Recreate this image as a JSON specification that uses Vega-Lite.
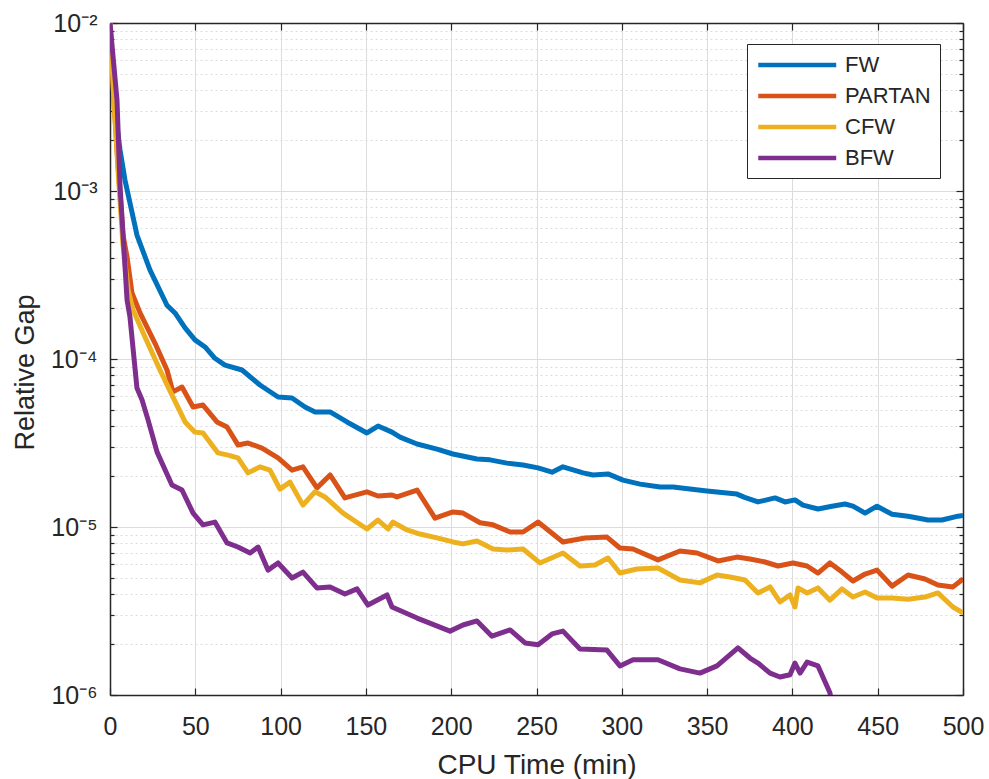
{
  "$schema": "https://vega.github.io/schema/vega-lite/v6.json",
  "width": 853,
  "height": 672,
  "autosize": "none",
  "padding": {"left": 110, "top": 23, "right": 26, "bottom": 84},
  "background": "white",
  "config": {
    "view": {"stroke": null},
    "font": "Liberation Sans",
    "axis": {
      "labelFont": "Liberation Sans",
      "titleFont": "Liberation Sans",
      "labelColor": "#262626",
      "titleColor": "#262626",
      "domainColor": "#262626",
      "domainWidth": 1.5,
      "tickColor": "#262626",
      "tickWidth": 1.2,
      "titleFontWeight": "normal"
    }
  },
  "data": {
    "values": [
      {"m":"FW","t":0,"g":0.01},{"m":"FW","t":2.9,"g":0.00303},{"m":"FW","t":5.9,"g":0.00175},{"m":"FW","t":8.8,"g":0.00116},{"m":"FW","t":15.8,"g":0.000547},{"m":"FW","t":23.4,"g":0.000339},{"m":"FW","t":33.4,"g":0.000209},{"m":"FW","t":38.1,"g":0.000188},{"m":"FW","t":44,"g":0.000153},{"m":"FW","t":49.8,"g":0.00013},{"m":"FW","t":55.7,"g":0.000118},{"m":"FW","t":61.5,"g":0.000101},{"m":"FW","t":67.4,"g":0.000092},{"m":"FW","t":77.4,"g":0.000086},{"m":"FW","t":87.9,"g":0.00007},{"m":"FW","t":98.5,"g":0.0000594},{"m":"FW","t":106.7,"g":0.0000586},{"m":"FW","t":114.3,"g":0.0000518},{"m":"FW","t":120.2,"g":0.0000484},{"m":"FW","t":129,"g":0.0000484},{"m":"FW","t":138.9,"g":0.0000422},{"m":"FW","t":150.6,"g":0.0000363},{"m":"FW","t":157.1,"g":0.0000399},{"m":"FW","t":165.3,"g":0.0000367},{"m":"FW","t":170,"g":0.0000343},{"m":"FW","t":180,"g":0.0000312},{"m":"FW","t":191.7,"g":0.0000291},{"m":"FW","t":201,"g":0.0000272},{"m":"FW","t":215.1,"g":0.0000254},{"m":"FW","t":222.7,"g":0.0000251},{"m":"FW","t":232.7,"g":0.000024},{"m":"FW","t":242.1,"g":0.0000234},{"m":"FW","t":250.9,"g":0.0000225},{"m":"FW","t":259.1,"g":0.0000212},{"m":"FW","t":265.5,"g":0.0000228},{"m":"FW","t":277.3,"g":0.000021},{"m":"FW","t":283.1,"g":0.0000204},{"m":"FW","t":291.9,"g":0.0000207},{"m":"FW","t":300.7,"g":0.000019},{"m":"FW","t":310.7,"g":0.000018},{"m":"FW","t":322.4,"g":0.0000173},{"m":"FW","t":330,"g":0.0000173},{"m":"FW","t":349.9,"g":0.0000164},{"m":"FW","t":367.5,"g":0.0000157},{"m":"FW","t":372,"g":0.000015},{"m":"FW","t":379.8,"g":0.0000141},{"m":"FW","t":389.8,"g":0.0000149},{"m":"FW","t":395.7,"g":0.0000141},{"m":"FW","t":401.5,"g":0.0000145},{"m":"FW","t":406.2,"g":0.0000135},{"m":"FW","t":415,"g":0.0000128},{"m":"FW","t":423.2,"g":0.0000133},{"m":"FW","t":430.8,"g":0.0000137},{"m":"FW","t":435.5,"g":0.0000133},{"m":"FW","t":442.6,"g":0.0000121},{"m":"FW","t":449.6,"g":0.0000133},{"m":"FW","t":458.4,"g":0.0000119},{"m":"FW","t":467.8,"g":0.0000116},{"m":"FW","t":479.5,"g":0.000011},{"m":"FW","t":487.7,"g":0.000011},{"m":"FW","t":497.1,"g":0.0000116},{"m":"FW","t":500,"g":0.0000117},
      {"m":"PARTAN","t":0,"g":0.01},{"m":"PARTAN","t":2.3,"g":0.00348},{"m":"PARTAN","t":4.7,"g":0.00143},{"m":"PARTAN","t":7.6,"g":0.000547},{"m":"PARTAN","t":10,"g":0.000405},{"m":"PARTAN","t":12.9,"g":0.000247},{"m":"PARTAN","t":17.6,"g":0.000188},{"m":"PARTAN","t":26.4,"g":0.000124},{"m":"PARTAN","t":33.4,"g":0.000086},{"m":"PARTAN","t":36.9,"g":0.0000637},{"m":"PARTAN","t":42.2,"g":0.0000681},{"m":"PARTAN","t":48.7,"g":0.0000518},{"m":"PARTAN","t":54.5,"g":0.0000532},{"m":"PARTAN","t":62.7,"g":0.0000422},{"m":"PARTAN","t":68.6,"g":0.0000394},{"m":"PARTAN","t":75,"g":0.0000308},{"m":"PARTAN","t":80.9,"g":0.0000316},{"m":"PARTAN","t":89.1,"g":0.0000295},{"m":"PARTAN","t":98.5,"g":0.0000258},{"m":"PARTAN","t":106.7,"g":0.0000218},{"m":"PARTAN","t":113.1,"g":0.0000228},{"m":"PARTAN","t":121.3,"g":0.0000171},{"m":"PARTAN","t":129,"g":0.0000204},{"m":"PARTAN","t":137.7,"g":0.0000149},{"m":"PARTAN","t":150.6,"g":0.0000162},{"m":"PARTAN","t":157.1,"g":0.0000153},{"m":"PARTAN","t":165.3,"g":0.0000155},{"m":"PARTAN","t":168.2,"g":0.0000151},{"m":"PARTAN","t":180,"g":0.0000166},{"m":"PARTAN","t":190.5,"g":0.0000113},{"m":"PARTAN","t":201,"g":0.0000123},{"m":"PARTAN","t":206.9,"g":0.0000121},{"m":"PARTAN","t":216.9,"g":0.0000106},{"m":"PARTAN","t":224.5,"g":0.0000103},{"m":"PARTAN","t":234.5,"g":0.00000934},{"m":"PARTAN","t":242.1,"g":0.00000934},{"m":"PARTAN","t":250.9,"g":0.0000107},{"m":"PARTAN","t":265.5,"g":0.00000815},{"m":"PARTAN","t":278.4,"g":0.00000861},{"m":"PARTAN","t":291.3,"g":0.00000871},{"m":"PARTAN","t":298.9,"g":0.0000075},{"m":"PARTAN","t":306.6,"g":0.0000074},{"m":"PARTAN","t":321.2,"g":0.00000637},{"m":"PARTAN","t":334.1,"g":0.0000072},{"m":"PARTAN","t":344.1,"g":0.000007},{"m":"PARTAN","t":356.4,"g":0.00000628},{"m":"PARTAN","t":367.5,"g":0.00000662},{"m":"PARTAN","t":375.1,"g":0.00000645},{"m":"PARTAN","t":383.9,"g":0.00000619},{"m":"PARTAN","t":391.6,"g":0.00000586},{"m":"PARTAN","t":400.4,"g":0.00000611},{"m":"PARTAN","t":408.6,"g":0.00000586},{"m":"PARTAN","t":415,"g":0.00000532},{"m":"PARTAN","t":422,"g":0.00000611},{"m":"PARTAN","t":429.1,"g":0.00000539},{"m":"PARTAN","t":435.5,"g":0.00000477},{"m":"PARTAN","t":442.6,"g":0.00000525},{"m":"PARTAN","t":449.6,"g":0.00000554},{"m":"PARTAN","t":458.4,"g":0.00000445},{"m":"PARTAN","t":467.8,"g":0.00000518},{"m":"PARTAN","t":477.7,"g":0.0000049},{"m":"PARTAN","t":485.3,"g":0.00000451},{"m":"PARTAN","t":494.1,"g":0.0000044},{"m":"PARTAN","t":500,"g":0.0000049},
      {"m":"CFW","t":0,"g":0.01},{"m":"CFW","t":2.3,"g":0.00348},{"m":"CFW","t":4.7,"g":0.00133},{"m":"CFW","t":7.6,"g":0.000478},{"m":"CFW","t":10.6,"g":0.000258},{"m":"CFW","t":13.5,"g":0.000196},{"m":"CFW","t":20.5,"g":0.000135},{"m":"CFW","t":29.3,"g":0.000086},{"m":"CFW","t":36.3,"g":0.0000611},{"m":"CFW","t":44,"g":0.0000422},{"m":"CFW","t":49.8,"g":0.0000367},{"m":"CFW","t":54.5,"g":0.0000363},{"m":"CFW","t":63.3,"g":0.0000276},{"m":"CFW","t":69.2,"g":0.0000268},{"m":"CFW","t":75,"g":0.0000258},{"m":"CFW","t":80.9,"g":0.000021},{"m":"CFW","t":87.9,"g":0.0000228},{"m":"CFW","t":93.8,"g":0.0000218},{"m":"CFW","t":99.6,"g":0.0000168},{"m":"CFW","t":105.5,"g":0.0000185},{"m":"CFW","t":113.1,"g":0.0000135},{"m":"CFW","t":120.2,"g":0.0000162},{"m":"CFW","t":126,"g":0.0000151},{"m":"CFW","t":136.6,"g":0.0000121},{"m":"CFW","t":150.6,"g":0.00000973},{"m":"CFW","t":157.1,"g":0.000011},{"m":"CFW","t":163,"g":0.00000973},{"m":"CFW","t":165.9,"g":0.0000107},{"m":"CFW","t":174.1,"g":0.0000096},{"m":"CFW","t":181.7,"g":0.00000908},{"m":"CFW","t":191.7,"g":0.00000861},{"m":"CFW","t":201,"g":0.00000815},{"m":"CFW","t":206.9,"g":0.00000793},{"m":"CFW","t":215.1,"g":0.00000826},{"m":"CFW","t":224.5,"g":0.0000074},{"m":"CFW","t":232.7,"g":0.0000073},{"m":"CFW","t":242.1,"g":0.0000074},{"m":"CFW","t":252,"g":0.00000611},{"m":"CFW","t":265.5,"g":0.000007},{"m":"CFW","t":275.5,"g":0.00000586},{"m":"CFW","t":284.3,"g":0.00000594},{"m":"CFW","t":291.9,"g":0.00000654},{"m":"CFW","t":298.9,"g":0.00000532},{"m":"CFW","t":308.9,"g":0.00000562},{"m":"CFW","t":321.2,"g":0.0000057},{"m":"CFW","t":334.1,"g":0.00000484},{"m":"CFW","t":345.8,"g":0.00000465},{"m":"CFW","t":355.8,"g":0.00000518},{"m":"CFW","t":363.4,"g":0.00000504},{"m":"CFW","t":372.2,"g":0.00000484},{"m":"CFW","t":379.8,"g":0.00000405},{"m":"CFW","t":386.9,"g":0.0000044},{"m":"CFW","t":392.7,"g":0.00000358},{"m":"CFW","t":398.6,"g":0.00000394},{"m":"CFW","t":401.5,"g":0.00000334},{"m":"CFW","t":403.3,"g":0.00000434},{"m":"CFW","t":408.6,"g":0.00000405},{"m":"CFW","t":415,"g":0.00000434},{"m":"CFW","t":422,"g":0.00000367},{"m":"CFW","t":429.1,"g":0.00000428},{"m":"CFW","t":435.5,"g":0.00000383},{"m":"CFW","t":442.6,"g":0.0000041},{"m":"CFW","t":449.6,"g":0.00000378},{"m":"CFW","t":458.4,"g":0.00000378},{"m":"CFW","t":467.8,"g":0.00000372},{"m":"CFW","t":477.7,"g":0.00000383},{"m":"CFW","t":485.3,"g":0.00000405},{"m":"CFW","t":494.1,"g":0.00000334},{"m":"CFW","t":500,"g":0.00000308},
      {"m":"BFW","t":0,"g":0.01},{"m":"BFW","t":4.1,"g":0.00348},{"m":"BFW","t":5.9,"g":0.00106},{"m":"BFW","t":7.6,"g":0.000562},{"m":"BFW","t":10,"g":0.000224},{"m":"BFW","t":11.7,"g":0.000178},{"m":"BFW","t":15.8,"g":0.0000671},{"m":"BFW","t":18.8,"g":0.000057},{"m":"BFW","t":22.3,"g":0.0000434},{"m":"BFW","t":27.6,"g":0.0000279},{"m":"BFW","t":36.3,"g":0.0000178},{"m":"BFW","t":42.2,"g":0.0000166},{"m":"BFW","t":48.7,"g":0.0000121},{"m":"BFW","t":54.5,"g":0.0000103},{"m":"BFW","t":61.5,"g":0.0000107},{"m":"BFW","t":68.6,"g":0.00000804},{"m":"BFW","t":75,"g":0.0000076},{"m":"BFW","t":82.1,"g":0.000007},{"m":"BFW","t":86.8,"g":0.0000076},{"m":"BFW","t":92.6,"g":0.00000554},{"m":"BFW","t":98.5,"g":0.00000611},{"m":"BFW","t":106.7,"g":0.00000497},{"m":"BFW","t":113.1,"g":0.00000539},{"m":"BFW","t":121.3,"g":0.00000434},{"m":"BFW","t":129,"g":0.0000044},{"m":"BFW","t":137.7,"g":0.00000399},{"m":"BFW","t":144.8,"g":0.00000428},{"m":"BFW","t":151.2,"g":0.00000343},{"m":"BFW","t":162.4,"g":0.00000394},{"m":"BFW","t":165.3,"g":0.00000334},{"m":"BFW","t":180,"g":0.00000287},{"m":"BFW","t":199.3,"g":0.0000024},{"m":"BFW","t":206.9,"g":0.00000261},{"m":"BFW","t":215.1,"g":0.00000276},{"m":"BFW","t":223.9,"g":0.00000224},{"m":"BFW","t":234.5,"g":0.00000244},{"m":"BFW","t":243.3,"g":0.00000204},{"m":"BFW","t":250.9,"g":0.00000199},{"m":"BFW","t":259.1,"g":0.00000231},{"m":"BFW","t":265.5,"g":0.0000024},{"m":"BFW","t":275.5,"g":0.00000188},{"m":"BFW","t":291.3,"g":0.00000185},{"m":"BFW","t":298.9,"g":0.00000149},{"m":"BFW","t":306.6,"g":0.00000162},{"m":"BFW","t":321.2,"g":0.00000162},{"m":"BFW","t":334.1,"g":0.00000143},{"m":"BFW","t":345.8,"g":0.00000135},{"m":"BFW","t":355.8,"g":0.00000149},{"m":"BFW","t":368.1,"g":0.00000191},{"m":"BFW","t":375.1,"g":0.00000166},{"m":"BFW","t":379.8,"g":0.00000155},{"m":"BFW","t":386.9,"g":0.00000135},{"m":"BFW","t":392.7,"g":0.00000128},{"m":"BFW","t":398.6,"g":0.00000132},{"m":"BFW","t":401.5,"g":0.00000155},{"m":"BFW","t":404.5,"g":0.00000135},{"m":"BFW","t":408.6,"g":0.00000157},{"m":"BFW","t":415,"g":0.00000149},{"m":"BFW","t":422,"g":0.00000103},{"m":"BFW","t":425,"g":0.00000071}
    ]
  },
  "layer": [
    {
      "mark": {"type": "line", "strokeWidth": 5, "clip": true, "strokeJoin": "round"},
      "encoding": {
        "x": {
          "field": "t", "type": "quantitative",
          "scale": {"domain": [0, 500], "nice": false, "zero": false},
          "axis": {
            "orient": "bottom",
            "title": "CPU Time (min)",
            "values": [0, 50, 100, 150, 200, 250, 300, 350, 400, 450, 500],
            "grid": true, "gridColor": "#dcdcdc", "gridWidth": 1,
            "tickSize": -7,
            "labelFontSize": 25, "labelPadding": 26,
            "labelFlush": false,
            "titleFontSize": 28, "titleBaseline": "alphabetic", "titleY": 78
          }
        },
        "y": {
          "field": "g", "type": "quantitative",
          "scale": {"type": "log", "domain": [0.000001, 0.01], "nice": false},
          "axis": {
            "orient": "left",
            "title": "Relative Gap",
            "values": [0.000001,0.000002,0.000003,0.000004,0.000005,0.000006,0.000007,0.000008,0.000009,0.00001,0.00002,0.00003,0.00004,0.00005,0.00006,0.00007,0.00008,0.00009,0.0001,0.0002,0.0003,0.0004,0.0005,0.0006,0.0007,0.0008,0.0009,0.001,0.002,0.003,0.004,0.005,0.006,0.007,0.008,0.009,0.01],
            "labelExpr": "abs(log(datum.value)/LN10 - round(log(datum.value)/LN10)) < 0.01 ? '10⁻' + ['⁰','¹','²','³','⁴','⁵','⁶'][-round(log(datum.value)/LN10)] : ''",
            "grid": true,
            "gridColor": "#dcdcdc",
            "gridWidth": 1,
            "gridDash": {"condition": {"test": "abs(log(datum.value)/LN10 - round(log(datum.value)/LN10)) < 0.01", "value": []}, "value": [2, 3]},
            "tickSize": {"condition": {"test": "abs(log(datum.value)/LN10 - round(log(datum.value)/LN10)) < 0.01", "value": -7}, "value": -4},
            "labelFontSize": 25, "labelPadding": 20,
            "labelFlush": false, "labelOverlap": false,
            "titleFontSize": 27, "titleAngle": 270, "titleBaseline": "alphabetic", "titleX": -77, "titleY": 349
          }
        },
        "color": {
          "field": "m", "type": "nominal",
          "scale": {"domain": ["FW", "PARTAN", "CFW", "BFW"], "range": ["#0072BD", "#D95319", "#EDB120", "#7E2F8E"]},
          "legend": {
            "title": null,
            "orient": "none",
            "legendX": 637,
            "legendY": 21,
            "direction": "vertical",
            "strokeColor": "#262626",
            "fillColor": "white",
            "padding": 9,
            "symbolType": "M-1,0H7",
            "symbolSize": 380,
            "symbolStrokeWidth": 4.5,
            "symbolFillColor": "transparent",
            "labelOffset": 65,
            "labelFont": "Liberation Sans",
            "labelFontSize": 22,
            "labelColor": "#262626",
            "rowPadding": 8
          }
        },
        "detail": {"field": "m"}
      }
    },
    {
      "mark": {"type": "line", "strokeOpacity": 0, "clip": true},
      "encoding": {
        "x": {
          "field": "t", "type": "quantitative",
          "axis": {
            "orient": "top", "title": null, "labels": false, "grid": false,
            "values": [0, 50, 100, 150, 200, 250, 300, 350, 400, 450, 500],
            "tickSize": -7
          }
        },
        "y": {
          "field": "g", "type": "quantitative",
          "axis": {
            "orient": "right", "title": null, "labels": false, "grid": false,
            "values": [0.000001,0.000002,0.000003,0.000004,0.000005,0.000006,0.000007,0.000008,0.000009,0.00001,0.00002,0.00003,0.00004,0.00005,0.00006,0.00007,0.00008,0.00009,0.0001,0.0002,0.0003,0.0004,0.0005,0.0006,0.0007,0.0008,0.0009,0.001,0.002,0.003,0.004,0.005,0.006,0.007,0.008,0.009,0.01],
            "tickSize": {"condition": {"test": "abs(log(datum.value)/LN10 - round(log(datum.value)/LN10)) < 0.01", "value": -7}, "value": -4}
          }
        },
        "detail": {"field": "m"}
      }
    }
  ],
  "resolve": {"axis": {"x": "independent", "y": "independent"}}
}
